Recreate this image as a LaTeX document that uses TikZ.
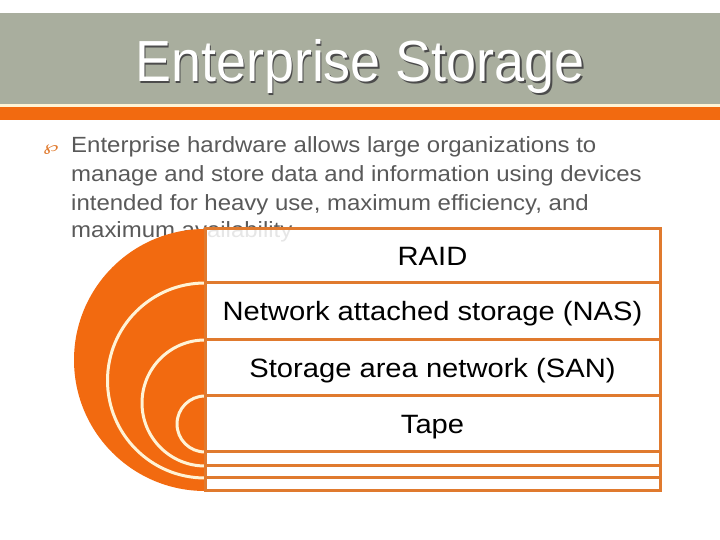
\documentclass[tikz,border=0pt]{standalone}
\usepackage{fontspec}
\setmainfont{Liberation Sans}
\newfontfamily\symfont{DejaVu Sans}
\usetikzlibrary{positioning}
\definecolor{bandgray}{HTML}{A9AE9E}
\definecolor{discorange}{HTML}{F26A10}
\definecolor{roworange}{HTML}{E07A2E}
\definecolor{ringcream}{HTML}{FFF3D6}
\definecolor{bodygray}{HTML}{595959}
\newcommand{\widetext}[2][1.09]{\scalebox{#1}[1]{#2}}
\newcommand{\shadowed}[1]{\rlap{\hspace{2pt}\raisebox{-2pt}{\color{black!70}#1}}#1}
\begin{document}
\begin{tikzpicture}[x=1pt,y=1pt,
		row/.style={draw=roworange, line width=3pt, fill=white, fill opacity=0.85, text opacity=1,
			minimum width=455pt, inner sep=0pt, outer sep=0pt, text height=19pt, text depth=0pt,
			font=\fontsize{26.5}{30}\selectfont, text=black},
		stripe/.style={row, text height=0pt},
		ring/.style={draw=ringcream, line width=3pt},
		body/.style={anchor=base west, inner sep=0pt, text=bodygray, font=\fontsize{22}{26}\selectfont}]
	\useasboundingbox (0,0) rectangle (720,540);
	% title band
	\fill [bandgray] (0,436) rectangle (720,527);
	\fill [ringcream] (0,433) rectangle (720,436);
	\fill [discorange] (0,420) rectangle (720,433);
	\node (title) [anchor=base, text=white, inner sep=0pt] at (360,458) {\fontsize{58}{60}\selectfont\widetext[0.93]{\shadowed{Enterprise Storage}}};
	% bullet text
	\node (bullet) [anchor=base west, inner sep=0pt, text=roworange] at (43,388) {\symfont\fontsize{15}{18}\selectfont\scalebox{1.5}[0.9]{℘}};
	\node (l1) [body] at (71,387) {\widetext{Enterprise hardware allows large organizations to}};
	\node (l2) [body] at (71,358) {\widetext{manage and store data and information using devices}};
	\node (l3) [body] at (71,329) {\widetext{intended for heavy use, maximum efficiency, and}};
	\node (l4) [body] at (71,302) {\widetext{maximum availability}};
	% list rows
	\node (raid) [row, minimum height=54pt, anchor=north west] at (205,311) {\widetext[1.1]{RAID}};
	\node (nas) [row, minimum height=57pt, below=0pt of raid] {\widetext[1.1]{Network attached storage (NAS)}};
	\node (san) [row, minimum height=56pt, below=0pt of nas] {\widetext[1.1]{Storage area network (SAN)}};
	\node (tape) [row, minimum height=56pt, below=0pt of san] {\widetext[1.1]{Tape}};
	\node (s1) [stripe, minimum height=14pt, below=0pt of tape] {};
	\node (s2) [stripe, minimum height=12pt, below=0pt of s1] {};
	\node (s3) [stripe, minimum height=13pt, below=0pt of s2] {};
	% half disc with rings
	\fill [discorange] (raid.north west) arc [start angle=90, end angle=270, radius=131] -- cycle;
	\draw [ring] (nas.north west) arc [start angle=90, end angle=270, radius=97.5];
	\draw [ring] (san.north west) arc [start angle=90, end angle=270, radius=63];
	\draw [ring] (tape.north west) arc [start angle=90, end angle=270, radius=28];
	\draw [draw=roworange, line width=3pt] (raid.north west) -- (s3.south west);
\end{tikzpicture}
\end{document}
